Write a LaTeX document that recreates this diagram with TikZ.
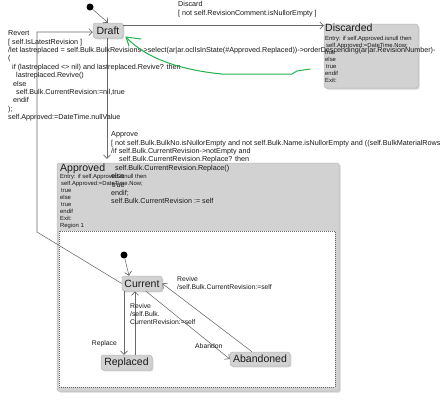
\documentclass[tikz,border=0pt]{standalone}
\usepackage{fontspec}
\setmainfont{Liberation Sans}
\usetikzlibrary{arrows.meta,shadows}
\definecolor{stfill}{RGB}{210,210,210}
\definecolor{stline}{RGB}{185,185,185}
\definecolor{trline}{RGB}{105,105,105}
\definecolor{txt}{RGB}{25,25,25}
\definecolor{paintgreen}{RGB}{34,177,76}
\tikzset{
  statebox/.style={rectangle, rounded corners=2.5pt, fill=stfill, draw=stline, line width=0.5pt,
    drop shadow={shadow xshift=1.3pt, shadow yshift=-1.3pt, opacity=0.35}, inner sep=0pt,
    font=\fontsize{10.5}{12}\selectfont, text=txt},
  bigbox/.style={rectangle, rounded corners=1.5pt, fill=stfill, draw=stline, line width=0.5pt,
    drop shadow={shadow xshift=1.5pt, shadow yshift=-1.5pt, opacity=0.35}, inner sep=0pt},
  titletext/.style={anchor=north west, inner sep=0pt, font=\fontsize{10.5}{12}\selectfont, text=txt},
  entrytext/.style={anchor=north west, inner sep=0pt, align=left, font=\fontsize{5.9}{7}\selectfont, text=txt},
  labeltext/.style={anchor=north west, inner sep=0pt, align=left, font=\fontsize{7.2}{8.4}\selectfont, text=txt},
  smalllabel/.style={anchor=north west, inner sep=0pt, align=left, font=\fontsize{6.8}{8.4}\selectfont, text=txt},
  trans/.style={draw=trline, line width=0.55pt, -{Straight Barb[length=3.5pt,width=7pt,line width=0.7pt]}},
  initdot/.style={circle, fill=black, inner sep=0pt, minimum size=7pt},
  region/.style={rectangle, fill=white, draw=trline, line width=0.5pt, dash pattern=on 1pt off 1pt, inner sep=0pt},
  greenmark/.style={draw=paintgreen, line width=1pt, line cap=round, line join=round}
}
\begin{document}
\begin{tikzpicture}[x=1pt,y=-1pt]
\useasboundingbox (0,0) rectangle (446,402);
\fill[white] (0,0) rectangle (446,402);

% Approved composite state
\node[bigbox, minimum width=282pt, minimum height=228pt] (approved) at (198,277) {};
\node[region, minimum width=276pt, minimum height=156pt] (region1) at (197,309) {};
\node[titletext] (approvedtitle) at (60,163.5) {Approved};
\node[entrytext] (approvedentry) at (60,174.5) {Entry: if self.Approved.isnull then\\
\hspace{1pt}self.Approved:=DateTime.Now;\\
\hspace{1pt}true\\
else\\
\hspace{1pt}true\\
endif\\
Exit:\\
Region 1};

% Simple states
\node[statebox, minimum width=30pt, minimum height=15pt] (draft) at (108,30.5) {Draft};
\node[bigbox, rounded corners=2.5pt, minimum width=94pt, minimum height=64pt] (discarded) at (371,56) {};
\node[titletext] (discardedtitle) at (325,23.5) {Discarded};
\node[entrytext] (discardedentry) at (325,36.5) {Entry: if self.Approved.isnull then\\
\hspace{1pt}self.Approved:=DateTime.Now;\\
true\\
else\\
\hspace{1pt}true\\
endif\\
Exit:};
\node[statebox, minimum width=40pt, minimum height=15pt] (current) at (142,283.5) {Current};
\node[statebox, minimum width=51pt, minimum height=15pt] (replaced) at (126.5,362.5) {Replaced};
\node[statebox, minimum width=60pt, minimum height=14pt] (abandoned) at (260,359) {Abandoned};

% initial pseudostates
\node[initdot] (init1) at (90,7) {};
\node[initdot] (init2) at (124,255) {};

% transitions
\draw[trans] (init1) -- (draft.north);
\draw[trans] (init2) -- (current.north -| 129,0);
\draw[trans] (draft.east |- 0,25.5) -- (discarded.west |- 0,25.5);
\draw[trans, shorten >=4pt] (draft.south -| 107,0) -- (approved.north -| 107,0);
\coordinate (rv1) at (37,232);
\coordinate (rv2) at (37,32);
\draw[trans] (current.west) -- (rv1) -- (rv2) -- (draft.west |- 0,32);
\draw[trans] (current.south -| 124,0) -- (replaced.north -| 124,0);
\draw[trans] (replaced.north -| 135,0) -- (current.south -| 135,0);
\draw[trans] (current.south -| 146,0) -- (abandoned.west);
\draw[trans] (abandoned.north -| 252,0) -- (current.east);

% transition labels
\node[labeltext] (discardlabel) at (178,1.5) {Discard\\\relax [ not self.RevisionComment.isNullorEmpty ]};
\node[labeltext] (revertlabel) at (8,30.5) {Revert\\\relax
[ self.IsLatestRevision ]\\
/let lastreplaced = self.Bulk.BulkRevisions->select(ar|ar.oclIsInState(\#Approved.Replaced))->orderDescending(ar|ar.RevisionNumber)-\\
(\\
\hspace{4pt}if (lastreplaced <> nil) and lastreplaced.Revive? then\\
\hspace{8pt}lastreplaced.Revive()\\
\hspace{5pt}else\\
\hspace{8pt}self.Bulk.CurrentRevision:=nil,true\\
\hspace{5pt}endif\\
);\\
self.Approved:=DateTime.nullValue};
\node[labeltext] (approvelabel) at (111,131.5) {Approve\\\relax
[ not self.Bulk.BulkNo.isNullorEmpty and not self.Bulk.Name.isNullorEmpty and ((self.BulkMaterialRows\\
/if self.Bulk.CurrentRevision->notEmpty and\\
\hspace{8pt}self.Bulk.CurrentRevision.Replace? then\\
\hspace{4pt}self.Bulk.CurrentRevision.Replace()\\
else\\
\hspace{1pt}true\\
endif;\\
self.Bulk.CurrentRevision := self};
\node[smalllabel] (revivelabelA) at (177,276) {Revive\\/self.Bulk.CurrentRevision:=self};
\node[smalllabel] (revivelabelB) at (130,303) {Revive\\/self.Bulk.\\CurrentRevision:=self};
\node[smalllabel, anchor=north east] (replacelabel) at (117,340.5) {Replace};
\node[smalllabel] (abandonlabel) at (195,343) {Abandon};

% green freehand annotation
\coordinate (g0) at (310,69);
\coordinate (g1) at (297,71);
\coordinate (g2) at (292,74);
\coordinate (g3) at (222,74);
\coordinate (gtip) at (126,37);
\draw[greenmark] (g0) -- (g1) -- (g2) -- (g3) .. controls (180,70) and (145,58) .. (gtip);
\draw[greenmark] (141,39) -- (gtip) -- (129,46);
\end{tikzpicture}
\end{document}
